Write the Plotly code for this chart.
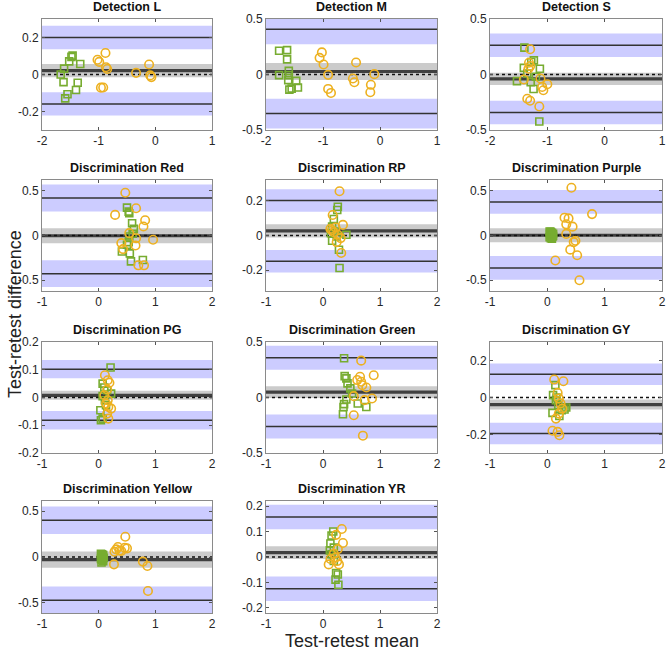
import plotly.graph_objects as go

# ---------------- data ----------------
titles = ["Detection L", "Detection M", "Detection S",
          "Discrimination Red", "Discrimination RP", "Discrimination Purple",
          "Discrimination PG", "Discrimination Green", "Discrimination GY",
          "Discrimination Yellow", "Discrimination YR"]

# bias, bias CI half-width, upper LoA, lower LoA, LoA CI half-width
bias      = [0.021, 0.027, -0.039, -0.003, 0.027, 0.003, 0.008, 0.048, -0.038, -0.029, 0.017]
bias_ci   = [0.036, 0.077, 0.055, 0.083, 0.038, 0.078, 0.016, 0.053, 0.027, 0.088, 0.025]
loa_upper = [0.200, 0.407, 0.263, 0.419, 0.202, 0.375, 0.102, 0.358, 0.126, 0.400, 0.157]
loa_lower = [-0.159, -0.352, -0.342, -0.426, -0.149, -0.362, -0.082, -0.262, -0.195, -0.470, -0.125]
loa_ci    = [0.063, 0.134, 0.106, 0.150, 0.065, 0.132, 0.033, 0.108, 0.058, 0.150, 0.048]

y_limits = [0.30, 0.50, 0.50, 0.62, 0.32, 0.62, 0.20, 0.50, 0.30, 0.61, 0.22]
x_ranges = [[-2, 1], [-2, 1], [-2, 1], [-1, 2], [-1, 2], [-1, 2],
            [-1, 2], [-1, 2], [-1, 2], [-1, 2], [-1, 2]]
y_ticks = [[-0.2, 0, 0.2], [-0.5, 0, 0.5], [-0.5, 0, 0.5], [-0.5, 0, 0.5],
           [-0.2, 0, 0.2], [-0.5, 0, 0.5], [-0.2, -0.1, 0, 0.1, 0.2],
           [-0.5, 0, 0.5], [-0.2, 0, 0.2], [-0.5, 0, 0.5], [-0.2, -0.1, 0, 0.1, 0.2]]

# Detection L
detL_sq_x = [-1.46, -1.48, -1.325, -1.52, -1.61, -1.67, -1.62, -1.37, -1.40, -1.55, -1.59]
detL_sq_y = [0.102, 0.095, 0.057, 0.071, 0.032, 0.000, -0.041, -0.045, -0.084, -0.107, -0.129]
detL_ci_x = [-0.88, -1.02, -0.99, -0.87, -0.85, -0.96, -0.92, -0.34, -0.11, -0.09, -0.07]
detL_ci_y = [0.116, 0.080, 0.068, 0.039, 0.030, -0.071, -0.070, 0.009, 0.054, -0.005, -0.014]
# Detection M
detM_sq_x = [-1.77, -1.63, -1.63, -1.60, -1.77, -1.60, -1.61, -1.47, -1.44, -1.59, -1.55]
detM_sq_y = [0.214, 0.220, 0.136, 0.033, -0.006, -0.006, -0.051, -0.057, -0.117, -0.136, -0.127]
detM_ci_x = [-1.02, -1.06, -0.99, -0.91, -0.91, -0.86, -0.42, -0.475, -0.45, -0.10, -0.16, -0.17]
detM_ci_y = [0.199, 0.150, 0.090, -0.003, -0.130, -0.166, 0.108, -0.036, -0.070, 0.003, -0.093, -0.160]
# Detection S
detS_sq_x = [-1.40, -1.235, -1.28, -1.41, -1.13, -1.35, -1.20, -1.53, -1.29, -1.24, -1.14]
detS_sq_y = [0.242, 0.127, 0.112, 0.060, 0.052, 0.009, -0.020, -0.060, -0.070, -0.130, -0.424]
detS_ci_x = [-1.30, -1.32, -1.30, -1.33, -1.41, -1.12, -1.00, -1.09, -1.07, -1.35, -1.30, -1.14]
detS_ci_y = [0.227, 0.106, 0.076, 0.052, -0.045, -0.036, -0.088, -0.112, -0.142, -0.218, -0.236, -0.288]
# Discrimination Red
red_sq_x = [0.50, 0.53, 0.54, 0.59, 0.62, 0.60, 0.54, 0.53, 0.50, 0.55, 0.57, 0.78, 0.41]
red_sq_y = [0.311, 0.267, 0.248, 0.137, 0.074, 0.019, -0.011, -0.074, -0.104, -0.200, -0.289, -0.274, -0.178]
red_ci_x = [0.47, 0.66, 0.29, 0.82, 0.79, 0.54, 0.66, 0.96, 0.65, 0.40, 0.43, 0.70, 0.80]
red_ci_y = [0.478, 0.304, 0.230, 0.170, 0.100, 0.026, -0.030, -0.048, -0.111, -0.085, -0.152, -0.333, -0.333]
# Discrimination RP
rp_sq_x = [0.26, 0.25, 0.19, 0.16, 0.14, 0.41, 0.16, 0.28, 0.29, 0.22, 0.24]
rp_sq_y = [0.166, 0.147, 0.095, 0.051, 0.013, 0.004, -0.030, -0.082, -0.187, 0.023, -0.005]
rp_ci_x = [0.29, 0.17, 0.35, 0.13, 0.19, 0.26, 0.31, 0.24, 0.32, 0.22, 0.16]
rp_ci_y = [0.255, 0.118, 0.061, 0.038, 0.019, 0.004, -0.015, -0.038, -0.101, 0.046, 0.030]
# Discrimination Purple
pur_sq_x = [0.04, 0.06, 0.08, 0.10, 0.05, 0.07, 0.09, 0.04, 0.06, 0.08, 0.10, 0.05]
pur_sq_y = [0.045, 0.040, 0.030, 0.020, 0.010, 0.000, -0.010, -0.020, -0.030, -0.035, -0.005, 0.025]
pur_ci_x = [0.42, 0.78, 0.30, 0.37, 0.33, 0.44, 0.33, 0.46, 0.49, 0.40, 0.52, 0.14, 0.56]
pur_ci_y = [0.533, 0.239, 0.199, 0.191, 0.125, 0.099, 0.018, -0.074, -0.059, -0.158, -0.221, -0.279, -0.500]
# Discrimination PG
pg_sq_x = [0.21, 0.07, 0.10, 0.15, 0.22, 0.07, 0.03, 0.07, 0.04, 0.11, 0.13]
pg_sq_y = [0.108, 0.050, 0.036, 0.026, 0.014, 0.005, -0.046, -0.076, -0.082, -0.010, -0.028]
pg_ci_x = [0.11, 0.16, 0.19, 0.15, 0.10, 0.16, 0.13, 0.17, 0.22, 0.15, 0.17]
pg_ci_y = [0.080, 0.062, 0.053, 0.029, 0.008, -0.010, -0.022, -0.034, -0.040, -0.058, -0.076]
# Discrimination Green
grn_sq_x = [0.37, 0.38, 0.41, 0.43, 0.48, 0.51, 0.41, 0.37, 0.36, 0.61, 0.76, 0.35]
grn_sq_y = [0.353, 0.193, 0.172, 0.127, 0.082, 0.036, -0.018, -0.060, -0.085, -0.054, -0.085, -0.151]
grn_ci_x = [0.67, 0.89, 0.65, 0.60, 0.67, 0.76, 0.69, 0.54, 0.73, 0.86, 0.54, 0.70]
grn_ci_y = [0.332, 0.200, 0.187, 0.157, 0.142, 0.090, 0.110, 0.012, -0.024, -0.009, -0.160, -0.344]
# Discrimination GY
gy_sq_x = [0.14, 0.10, 0.15, 0.19, 0.33, 0.25, 0.09, 0.21, 0.16, 0.30]
gy_sq_y = [0.067, 0.013, -0.014, -0.041, -0.054, -0.068, -0.083, -0.100, 0.000, -0.065]
gy_ci_x = [0.12, 0.28, 0.18, 0.20, 0.23, 0.26, 0.20, 0.15, 0.09, 0.18, 0.21]
gy_ci_y = [0.097, 0.088, 0.025, -0.005, -0.032, -0.060, -0.087, -0.114, -0.180, -0.186, -0.204]
# Discrimination Yellow
yel_sq_x = [0.04, 0.06, 0.08, 0.05, 0.07, 0.09, 0.04, 0.06, 0.08, 0.05, 0.07]
yel_sq_y = [0.036, 0.030, 0.020, 0.010, 0.000, -0.010, -0.020, -0.030, -0.045, -0.060, 0.015]
yel_ci_x = [0.47, 0.34, 0.31, 0.28, 0.50, 0.46, 0.37, 0.27, 0.78, 0.86, 0.87, 0.40]
yel_ci_y = [0.220, 0.109, 0.083, 0.058, 0.094, 0.100, 0.070, -0.080, -0.050, -0.098, -0.370, 0.065]
# Discrimination YR
yr_sq_x = [0.18, 0.15, 0.13, 0.19, 0.15, 0.19, 0.23, 0.26, 0.22, 0.27, 0.12]
yr_sq_y = [0.100, 0.084, 0.053, 0.037, 0.011, -0.016, -0.063, -0.069, -0.089, -0.109, 0.026]
yr_ci_x = [0.33, 0.23, 0.35, 0.26, 0.19, 0.22, 0.25, 0.10, 0.28, 0.13]
yr_ci_y = [0.110, 0.087, 0.055, 0.031, 0.013, -0.003, -0.016, -0.029, -0.029, -0.008]

square_x = [detL_sq_x, detM_sq_x, detS_sq_x, red_sq_x, rp_sq_x, pur_sq_x, pg_sq_x, grn_sq_x, gy_sq_x, yel_sq_x, yr_sq_x]
square_y = [detL_sq_y, detM_sq_y, detS_sq_y, red_sq_y, rp_sq_y, pur_sq_y, pg_sq_y, grn_sq_y, gy_sq_y, yel_sq_y, yr_sq_y]
circle_x = [detL_ci_x, detM_ci_x, detS_ci_x, red_ci_x, rp_ci_x, pur_ci_x, pg_ci_x, grn_ci_x, gy_ci_x, yel_ci_x, yr_ci_x]
circle_y = [detL_ci_y, detM_ci_y, detS_ci_y, red_ci_y, rp_ci_y, pur_ci_y, pg_ci_y, grn_ci_y, gy_ci_y, yel_ci_y, yr_ci_y]

# ---------------- styling / layout ----------------
W, H = 669, 650
col_px = [(42, 212), (266, 437), (490, 662)]
row_px = [(19, 130), (180, 291), (342, 453), (501, 613)]

GREEN = "#77AC30"
YELLOW = "#EDB120"
BLUE_BAND = "#CCCCFF"
GRAY_BAND = "#CBCBCB"
FONT = "Liberation Sans, Arial, Helvetica, sans-serif"

def fmt(v):
    return "%g" % v

fig = go.Figure()
shapes = []
annotations = []
layout_axes = {}

for i in range(11):
    r, c = divmod(i, 3)
    n = i + 1
    xa = "x" if n == 1 else f"x{n}"
    ya = "y" if n == 1 else f"y{n}"
    xk = "xaxis" if n == 1 else f"xaxis{n}"
    yk = "yaxis" if n == 1 else f"yaxis{n}"
    x0p, x1p = col_px[c]
    y0p, y1p = row_px[r]
    lim = y_limits[i]

    layout_axes[xk] = dict(
        domain=[x0p / W, x1p / W], anchor=ya, range=x_ranges[i], automargin=False,
        tickvals=list(range(x_ranges[i][0], x_ranges[i][1] + 1)),
        ticktext=[str(v) for v in range(x_ranges[i][0], x_ranges[i][1] + 1)],
        ticks="inside", ticklen=3, tickcolor="#555", showline=True, linecolor="#8a8a8a",
        linewidth=1, mirror="ticks", showgrid=False, zeroline=False,
        tickfont=dict(family=FONT, size=12, color="#262626"),
    )
    layout_axes[yk] = dict(
        domain=[1 - y1p / H, 1 - y0p / H], anchor=xa, range=[-lim, lim], automargin=False,
        tickvals=y_ticks[i], ticktext=[fmt(v) for v in y_ticks[i]],
        ticks="inside", ticklen=3, tickcolor="#555", showline=True, linecolor="#8a8a8a",
        linewidth=1, mirror="ticks", showgrid=False, zeroline=False,
        tickfont=dict(family=FONT, size=12, color="#262626"),
    )

    xd = f"{xa} domain"
    def clip(v):
        return max(-lim, min(lim, v))
    for centre, half, col in [(loa_upper[i], loa_ci[i], BLUE_BAND),
                              (loa_lower[i], loa_ci[i], BLUE_BAND),
                              (bias[i], bias_ci[i], GRAY_BAND)]:
        shapes.append(dict(type="rect", xref=xd, yref=ya, x0=0, x1=1,
                           y0=clip(centre - half), y1=clip(centre + half),
                           fillcolor=col, line=dict(width=0), layer="below"))
    for yv in (loa_upper[i], loa_lower[i]):
        shapes.append(dict(type="line", xref=xd, yref=ya, x0=0, x1=1, y0=yv, y1=yv,
                           line=dict(color="#333333", width=1.5), layer="below"))
    shapes.append(dict(type="line", xref=xd, yref=ya, x0=0, x1=1, y0=bias[i], y1=bias[i],
                       line=dict(color="#404040", width=3.2), layer="below"))
    shapes.append(dict(type="line", xref=xd, yref=ya, x0=0, x1=1, y0=0, y1=0,
                       line=dict(color="#111111", width=1.5, dash="dot"), layer="below"))

    fig.add_trace(go.Scatter(x=square_x[i], y=square_y[i], mode="markers", xaxis=xa, yaxis=ya,
                             marker=dict(symbol="square-open", size=7, color=GREEN,
                                         line=dict(width=1.6, color=GREEN)),
                             showlegend=False, hoverinfo="skip"))
    fig.add_trace(go.Scatter(x=circle_x[i], y=circle_y[i], mode="markers", xaxis=xa, yaxis=ya,
                             marker=dict(symbol="circle-open", size=8.5, color=YELLOW,
                                         line=dict(width=1.6, color=YELLOW)),
                             showlegend=False, hoverinfo="skip"))

    annotations.append(dict(text=f"<b>{titles[i]}</b>", xref="paper", yref="paper",
                            x=(x0p + x1p) / 2 / W, y=1 - (y0p - 3) / H,
                            xanchor="center", yanchor="bottom", showarrow=False,
                            font=dict(family=FONT, size=12.5, color="#111111")))

annotations.append(dict(text="Test-retest difference", xref="paper", yref="paper",
                        x=3 / W, y=1 - 314 / H, xanchor="left", yanchor="middle",
                        textangle=-90, showarrow=False,
                        font=dict(family=FONT, size=18, color="#222222")))
annotations.append(dict(text="Test-retest mean", xref="paper", yref="paper",
                        x=352 / W, y=0, xanchor="center", yanchor="bottom", yshift=-3,
                        showarrow=False, font=dict(family=FONT, size=18, color="#222222")))

fig.update_layout(width=W, height=H, margin=dict(l=0, r=0, t=0, b=0),
                  paper_bgcolor="white", plot_bgcolor="white",
                  shapes=shapes, annotations=annotations, **layout_axes)

fig.write_html("out.html")
